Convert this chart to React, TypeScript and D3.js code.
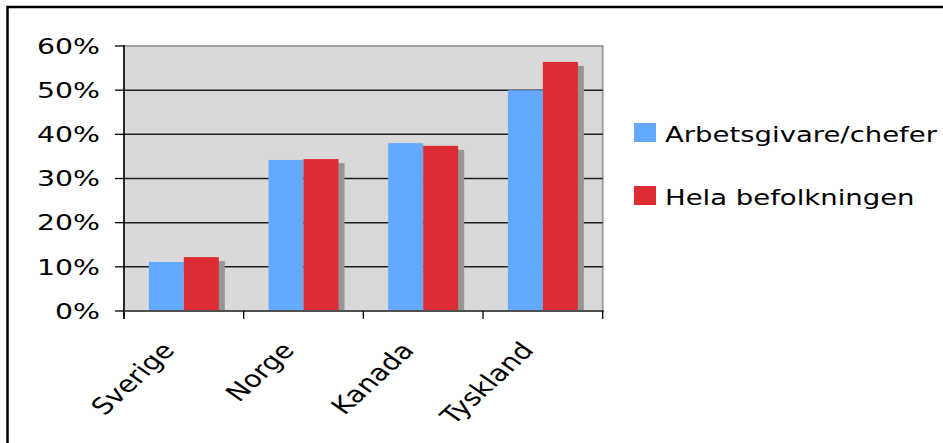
import React from "react";
import * as d3 from "d3";

const categories = ["Sverige", "Norge", "Kanada", "Tyskland"];
const seriesNames = ["Arbetsgivare/chefer", "Hela befolkningen"];
const arbetsgivare = [0.111, 0.342, 0.38, 0.5];
const helaBefolkningen = [0.122, 0.344, 0.374, 0.564];
const yTicks = [0, 0.1, 0.2, 0.3, 0.4, 0.5, 0.6];
const colors = ["#63A9FF", "#DD2C33"];

const W = 943;
const H = 443;
const FONT = "'DejaVu Sans', Verdana, sans-serif";
const SX = 1.25;

export default function App() {
  const left = 124;
  const right = 602.7;
  const top = 46;
  const bottom = 311;

  const x = d3.scaleBand<string>().domain(categories).range([left, right]).paddingInner(0).paddingOuter(0);
  const x1 = d3.scaleBand<string>().domain(seriesNames).range([0, x.bandwidth()]).paddingInner(0).paddingOuter(0.71);
  const y = d3.scaleLinear().domain([0, 0.6]).range([bottom, top]);
  const values = [arbetsgivare, helaBefolkningen];
  const tickXs = [...categories.map((c) => x(c) as number), right];
  const shadowDx = 6;
  const shadowDy = 4;

  return (
    <svg width={W} height={H} style={{ position: "absolute", left: 0, top: 0, background: "#fff" }}>
      <rect x={7.5} y={7} width={1100} height={700} fill="#fff" stroke="#000" strokeWidth={2.5} />
      {/* plot area */}
      <rect x={left} y={top} width={right - left} height={bottom - top} fill="#D9D9D9" stroke="#A0A0A0" strokeWidth={2} />
      {/* gridlines */}
      {yTicks.slice(1, -1).map((t) => (
        <line key={t} x1={left} x2={right} y1={y(t)} y2={y(t)} stroke="#1f1f1f" strokeWidth={1.5} />
      ))}
      {/* shadows */}
      {categories.map((c, i) => {
        const bx = (x(c) as number) + (x1(seriesNames[1]) as number);
        const yt = y(values[1][i]) + shadowDy;
        return (
          <rect key={"s" + c} x={bx + shadowDx} y={yt} width={x1.bandwidth()} height={bottom - yt} fill="#969696" />
        );
      })}
      {/* bars */}
      {seriesNames.map((s, si) =>
        categories.map((c, i) => {
          const bx = (x(c) as number) + (x1(s) as number);
          const yt = y(values[si][i]);
          return <rect key={s + c} x={bx} y={yt} width={x1.bandwidth()} height={bottom - yt} fill={colors[si]} />;
        })
      )}
      {/* axes */}
      <line x1={left} x2={left} y1={top - 1} y2={bottom + 8} stroke="#000" strokeWidth={1.5} />
      <line x1={left} x2={right + 1} y1={bottom} y2={bottom} stroke="#505050" strokeWidth={2} />
      {yTicks.map((t) => (
        <line key={"yt" + t} x1={left - 9} x2={left} y1={y(t)} y2={y(t)} stroke="#000" strokeWidth={1.3} />
      ))}
      {tickXs.map((tx, i) => (
        <line key={"xt" + i} x1={tx} x2={tx} y1={bottom} y2={bottom + 8} stroke="#000" strokeWidth={1.3} />
      ))}
      {/* y labels */}
      {yTicks.map((t) => (
        <text
          key={"yl" + t}
          transform={`translate(100,${y(t) + 7.8}) scale(1.35,1)`}
          textAnchor="end"
          fontFamily={FONT}
          fontSize={21}
          fill="#000"
        >
          {d3.format(".0%")(t)}
        </text>
      ))}
      {/* x labels */}
      {categories.map((c) => {
        const cx = (x(c) as number) + x.bandwidth() / 2;
        return (
          <text
            key={"xl" + c}
            transform={`translate(${cx - 8},${bottom + 40}) scale(${SX},1) rotate(-49)`}
            textAnchor="end"
            fontFamily={FONT}
            fontSize={23}
            fill="#000"
          >
            {c}
          </text>
        );
      })}
      {/* legend */}
      {seriesNames.map((s, i) => {
        const ly = 142 + i * 63;
        return (
          <g key={"lg" + s}>
            <rect x={634} y={ly - 19} width={22} height={19} fill={colors[i]} />
            <text transform={`translate(665,${ly}) scale(${SX},1)`} fontFamily={FONT} fontSize={22} fill="#000">
              {s}
            </text>
          </g>
        );
      })}
    </svg>
  );
}
